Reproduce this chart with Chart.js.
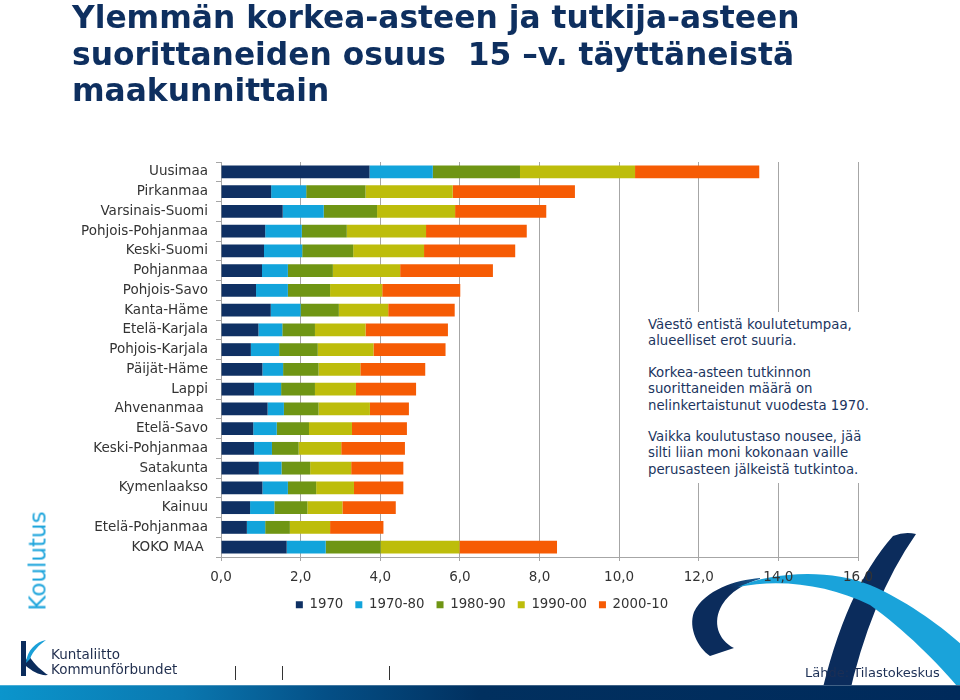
<!DOCTYPE html>
<html>
<head>
<meta charset="utf-8">
<script src="https://cdn.jsdelivr.net/npm/chart.js@4.4.1/dist/chart.umd.min.js"></script>
<style>
  html, body { margin: 0; padding: 0; background: #ffffff; }
  body { width: 960px; height: 700px; position: relative; overflow: hidden; font-family: 'DejaVu Sans', Verdana, sans-serif; }
  #chart { position: absolute; left: 0; top: 0; z-index: 1; }
  .abs { position: absolute; z-index: 2; white-space: pre; }
  #title { left: 72px; top: -1px; font-weight: bold; font-size: 31.3px; line-height: 36.7px; color: #0e2f5f; }
  #note { left: 640px; top: 312px; width: 227px; height: 166px; padding: 4.75px 0 0 8px; background: #ffffff; font-size: 13.3px; line-height: 16.5px; color: #1c3560; }
  #note p { margin: 0 0 14.8px 0; }
  #koulutus { left: 38px; top: 561px; font-size: 23px; color: #1ea5dc; transform: translate(-50%, -50%) rotate(-90deg); line-height: 1; }
  #logo { left: 51px; top: 647px; font-size: 13.5px; line-height: 15px; color: #1f2d4d; }
  #source { left: 805px; top: 664px; font-size: 13px; line-height: 17px; color: #1c2f55; }
  .vl { position: absolute; z-index: 2; width: 1.5px; height: 14px; top: 666px; background: #333333; }
</style>
</head>
<body>
<canvas id="chart" width="960" height="700"></canvas>
<div id="title" class="abs">Ylemmän korkea-asteen ja tutkija-asteen
suorittaneiden osuus  15 –v. täyttäneistä
maakunnittain</div>
<div id="note" class="abs"><p>Väestö entistä koulutetumpaa,
alueelliset erot suuria.</p><p>Korkea-asteen tutkinnon
suorittaneiden määrä on
nelinkertaistunut vuodesta 1970.</p><p>Vaikka koulutustaso nousee, jää
silti liian moni kokonaan vaille
perusasteen jälkeistä tutkintoa.</p></div>
<div id="koulutus" class="abs">Koulutus</div>
<div id="logo" class="abs">Kuntaliitto
Kommunförbundet</div>
<div id="source" class="abs">Lähde: Tilastokeskus</div>
<div class="vl" style="left:234.5px"></div>
<div class="vl" style="left:281.5px"></div>
<div class="vl" style="left:388.5px"></div>
<script>
const categories = ['Uusimaa','Pirkanmaa','Varsinais-Suomi','Pohjois-Pohjanmaa','Keski-Suomi','Pohjanmaa','Pohjois-Savo','Kanta-Häme','Etelä-Karjala','Pohjois-Karjala','Päijät-Häme','Lappi','Ahvenanmaa ','Etelä-Savo','Keski-Pohjanmaa','Satakunta','Kymenlaakso','Kainuu','Etelä-Pohjanmaa','KOKO MAA '];
const seriesNames = ['1970','1970-80','1980-90','1990-00','2000-10'];
const s1970   = [3.73,1.26,1.55,1.11,1.08,1.03,0.88,1.25,0.94,0.75,1.04,0.83,1.17,0.81,0.83,0.95,1.04,0.73,0.65,1.65];
const s1970_80 = [1.59,0.88,1.03,0.92,0.96,0.65,0.80,0.75,0.60,0.71,0.52,0.68,0.41,0.59,0.45,0.57,0.64,0.61,0.46,0.98];
const s1980_90 = [2.19,1.49,1.34,1.13,1.28,1.13,1.06,0.96,0.82,0.97,0.89,0.85,0.87,0.81,0.67,0.72,0.71,0.83,0.62,1.38];
const s1990_00 = [2.89,2.19,1.96,1.99,1.78,1.69,1.31,1.24,1.27,1.40,1.05,1.03,1.29,1.08,1.07,1.03,0.95,0.88,1.01,1.98];
const s2000_10 = [3.12,3.07,2.29,2.53,2.29,2.33,1.96,1.67,2.07,1.81,1.63,1.51,0.98,1.38,1.60,1.31,1.24,1.34,1.34,2.45];
const xTickLabels = ['0,0','2,0','4,0','6,0','8,0','10,0','12,0','14,0','16,0'];

const seriesValues = [s1970, s1970_80, s1980_90, s1990_00, s2000_10];
const seriesColors = ['#0f3063','#12a4db','#6f9514','#bdbd0b','#f65b04'];

Chart.defaults.font.family = "'DejaVu Sans', Verdana, sans-serif";
Chart.defaults.color = '#333333';

const legendShift = {
  id: 'legendShift',
  afterLayout(chart) {
    if (chart.legend) { chart.legend.left = 106; }
  }
};

const decorations = {
  id: 'decorations',
  beforeDraw(chart) {
    const c = chart.ctx;
    c.save();
    // dark diagonal band
    c.fillStyle = '#0b2c5c';
    c.beginPath();
    c.moveTo(820, 700);
    c.quadraticCurveTo(845, 590, 893, 536);
    c.quadraticCurveTo(905, 531, 916, 534);
    c.quadraticCurveTo(870, 600, 848, 700);
    c.closePath();
    c.fill();
    // crescent
    const g = c.createLinearGradient(760, 578, 700, 650);
    g.addColorStop(0, '#1b5e96');
    g.addColorStop(0.3, '#0b2c5c');
    g.addColorStop(1, '#0b2c5c');
    c.fillStyle = g;
    c.beginPath();
    c.moveTo(760, 578);
    c.bezierCurveTo(735, 580, 705, 590, 694, 612);
    c.bezierCurveTo(688, 628, 698, 648, 710, 656);
    c.lineTo(734, 648);
    c.bezierCurveTo(718, 640, 712, 622, 722, 605);
    c.bezierCurveTo(730, 592, 745, 583, 760, 579);
    c.closePath();
    c.fill();
    // light blue arc
    c.fillStyle = '#1aa3da';
    c.beginPath();
    c.moveTo(738, 587);
    c.bezierCurveTo(770, 572, 830, 568, 870, 585);
    c.bezierCurveTo(905, 600, 940, 625, 962, 645);
    c.lineTo(962, 692);
    c.bezierCurveTo(940, 665, 905, 630, 870, 605);
    c.bezierCurveTo(830, 585, 780, 578, 738, 587);
    c.closePath();
    c.fill();
    // logo K
    c.fillStyle = '#0b2c5c';
    c.fillRect(21, 641, 5, 35);
    c.beginPath();
    c.moveTo(26, 660);
    c.lineTo(29, 656);
    c.bezierCurveTo(35, 665, 42, 671, 48, 675);
    c.bezierCurveTo(40, 676, 32, 671, 26, 666);
    c.closePath();
    c.fill();
    c.fillStyle = '#1aa0d8';
    c.beginPath();
    c.moveTo(46, 640);
    c.bezierCurveTo(36, 642, 27, 650, 26, 663);
    c.lineTo(30, 659);
    c.bezierCurveTo(33, 651, 39, 645, 46, 640);
    c.closePath();
    c.fill();
    // bottom bar
    const bg = c.createLinearGradient(0, 0, 960, 0);
    bg.addColorStop(0, '#0b95cc');
    bg.addColorStop(0.19, '#0a78b0');
    bg.addColorStop(0.34, '#044f86');
    bg.addColorStop(0.5, '#01305f');
    bg.addColorStop(1, '#002a5b');
    c.fillStyle = bg;
    c.fillRect(0, 685, 960, 15);
    c.fillStyle = 'rgba(255,255,255,0.25)';
    c.fillRect(0, 685, 960, 1);
    c.restore();
  }
};

new Chart(document.getElementById('chart'), {
  type: 'bar',
  data: {
    labels: categories,
    datasets: seriesNames.map((name, i) => ({
      label: name,
      data: seriesValues[i],
      backgroundColor: seriesColors[i],
      borderWidth: 0,
      categoryPercentage: 1,
      barPercentage: 0.65
    }))
  },
  options: {
    indexAxis: 'y',
    responsive: false,
    animation: false,
    layout: { padding: { left: 0, right: 102, top: 162, bottom: 78.5 } },
    plugins: {
      legend: {
        position: 'bottom',
        labels: { boxWidth: 7, boxHeight: 7, padding: 12, color: '#333333', font: { size: 13.3 } }
      },
      tooltip: { enabled: false }
    },
    scales: {
      x: {
        stacked: true,
        min: 0, max: 16,
        ticks: { stepSize: 2, padding: 8, color: '#333333', font: { size: 13.5 }, callback: (v, i) => xTickLabels[i] },
        grid: { color: '#a6a6a6', tickLength: 4, drawTicks: true },
        border: { display: true, color: '#a6a6a6' },
        afterFit: (s) => { s.height = 29.2; }
      },
      y: {
        stacked: true,
        ticks: { padding: 8, color: '#333333', font: { size: 13.5 }, autoSkip: false },
        grid: { drawOnChartArea: false, drawTicks: true, tickLength: 5, color: '#a6a6a6', offset: true },
        border: { display: true, color: '#a6a6a6' },
        afterFit: (s) => { s.width = 221; }
      }
    }
  },
  plugins: [legendShift, decorations]
});
</script>
</body>
</html>
